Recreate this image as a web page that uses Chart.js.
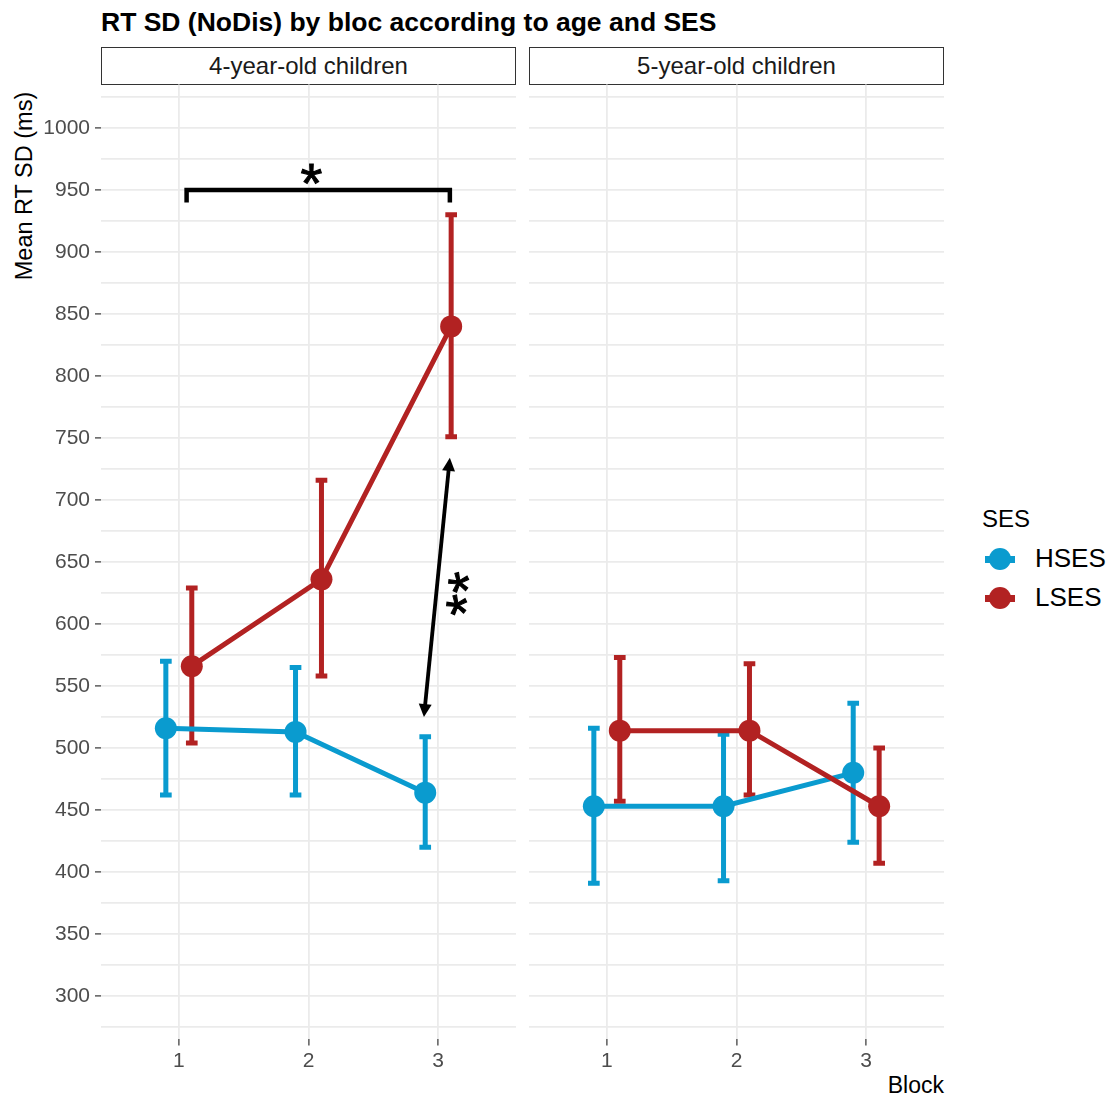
<!DOCTYPE html>
<html>
<head>
<meta charset="utf-8">
<script src="https://cdn.jsdelivr.net/npm/chart.js@4.4.1/dist/chart.umd.min.js"></script>
<style>
  body { margin: 0; background: #fff; font-family: "Liberation Sans", Arial, sans-serif; }
  #page { position: relative; width: 1109px; height: 1097px; overflow: hidden; }
  .abs { position: absolute; white-space: nowrap; }
  .strip { position: absolute; top: 47px; height: 36px; width: 413px; border: 1px solid #333;
           text-align: center; line-height: 36px; font-size: 24px; color: #1a1a1a; }
  .key { position: absolute; width: 30px; height: 22px; }
  .key .bar { position: absolute; left: 0; top: 7.5px; width: 30px; height: 7px; }
  .key .dot { position: absolute; left: 4px; top: 0; width: 22px; height: 22px; border-radius: 50%; }
</style>
</head>
<body>
<div id="page">
  <div class="abs" style="left:101px; top:5px; font-size:26.5px; font-weight:bold; line-height:34px; color:#000;">RT SD (NoDis) by bloc according to age and SES</div>
  <div class="strip" style="left:101px;">4-year-old children</div>
  <div class="strip" style="left:529px;">5-year-old children</div>
  <div class="abs" style="left:24px; top:186px; font-size:23.5px; color:#000; transform: translate(-50%,-50%) rotate(-90deg);">Mean RT SD (ms)</div>
  <div class="abs" style="right:165px; top:1071px; font-size:23px; line-height:28px; color:#000;">Block</div>

  <div class="abs" style="left:982px; top:504px; font-size:24px; line-height:30px; color:#000;">SES</div>
  <div class="key" style="left:985px; top:548px;"><div class="bar" style="background:#0A9BCF"></div><div class="dot" style="background:#0A9BCF"></div></div>
  <div class="abs" style="left:1035px; top:543px; font-size:26px; line-height:30px; color:#000;">HSES</div>
  <div class="key" style="left:985px; top:587px;"><div class="bar" style="background:#B22222"></div><div class="dot" style="background:#B22222"></div></div>
  <div class="abs" style="left:1035px; top:582px; font-size:26px; line-height:30px; color:#000;">LSES</div>

  <canvas id="left" class="abs" width="520" height="1000" style="left:0; top:80px;"></canvas>
  <canvas id="right" class="abs" width="415" height="1000" style="left:529px; top:80px;"></canvas>
</div>

<script>
// ----- data -----
const blocks = [1, 2, 3];
const yLabels = [300, 350, 400, 450, 500, 550, 600, 650, 700, 750, 800, 850, 900, 950, 1000];
const yGrid = [275, 300, 325, 350, 375, 400, 425, 450, 475, 500, 525, 550, 575, 600, 625, 650, 675, 700, 725, 750, 775, 800, 825, 850, 875, 900, 925, 950, 975, 1000, 1025];

// 4-year-old children
const hses4 = [516, 513, 464];
const hses4Lo = [462, 462, 420];
const hses4Hi = [570, 565, 509];
const lses4 = [566, 636, 840];
const lses4Lo = [504, 558, 751];
const lses4Hi = [629, 716, 930];

// 5-year-old children
const hses5 = [453, 453, 480];
const hses5Lo = [391, 393, 424];
const hses5Hi = [516, 511, 536];
const lses5 = [514, 514, 453];
const lses5Lo = [457, 462, 407];
const lses5Hi = [573, 568, 500];

// significance marks (left panel, data units)
const bracketX = [1.06, 3.09];
const bracketY = 950;
const bracketLegY = 940;
const bracketStar = [2.02, 963];
const arrowFrom = [2.89, 525];
const arrowTo = [3.09, 734];
const arrowStars = [[3.161, 633], [3.146, 615]];

const BLUE = '#0A9BCF';
const RED = '#B22222';
const FONT = '"Liberation Sans", Arial, sans-serif';
const DODGE = 0.1;
const CAP = 0.045;

function series(vals, shift) {
  return vals.map((v, i) => ({ x: blocks[i] + shift, y: v }));
}

// error bars drawn under the lines
const errorBars = {
  id: 'errorBars',
  beforeDatasetsDraw(chart) {
    const { ctx, scales: { x, y } } = chart;
    chart.data.datasets.forEach(ds => {
      ctx.save();
      ctx.strokeStyle = ds.borderColor;
      ctx.lineWidth = 5;
      ds.data.forEach((p, i) => {
        const px = x.getPixelForValue(p.x);
        const hw = x.getPixelForValue(p.x + CAP) - px;
        const top = y.getPixelForValue(ds.hi[i]);
        const bot = y.getPixelForValue(ds.lo[i]);
        ctx.beginPath();
        ctx.moveTo(px, top); ctx.lineTo(px, bot);
        ctx.moveTo(px - hw, top); ctx.lineTo(px + hw, top);
        ctx.moveTo(px - hw, bot); ctx.lineTo(px + hw, bot);
        ctx.stroke();
      });
      ctx.restore();
    });
  }
};

function drawStar(ctx, px, py, size, rot) {
  ctx.save();
  ctx.translate(px, py);
  ctx.rotate(rot);
  ctx.font = size + 'px ' + FONT;
  ctx.textAlign = 'left';
  ctx.textBaseline = 'alphabetic';
  const m = ctx.measureText('*');
  const cx = (m.actualBoundingBoxRight - m.actualBoundingBoxLeft) / 2;
  const cy = (m.actualBoundingBoxDescent - m.actualBoundingBoxAscent) / 2;
  ctx.fillStyle = '#000';
  ctx.strokeStyle = '#000';
  ctx.lineWidth = 1;
  ctx.fillText('*', -cx, -cy);
  ctx.strokeText('*', -cx, -cy);
  ctx.restore();
}

function arrowHead(ctx, tx, ty, fx, fy, len, half) {
  const a = Math.atan2(ty - fy, tx - fx);
  ctx.beginPath();
  ctx.moveTo(tx, ty);
  ctx.lineTo(tx - len * Math.cos(a) + half * Math.sin(a), ty - len * Math.sin(a) - half * Math.cos(a));
  ctx.lineTo(tx - len * Math.cos(a) - half * Math.sin(a), ty - len * Math.sin(a) + half * Math.cos(a));
  ctx.closePath();
  ctx.fill();
}

const significance = {
  id: 'significance',
  afterDatasetsDraw(chart) {
    const { ctx, scales: { x, y } } = chart;
    ctx.save();
    ctx.strokeStyle = '#000';
    ctx.fillStyle = '#000';
    ctx.lineWidth = 4.5;
    ctx.lineJoin = 'miter';
    // bracket
    const x1 = x.getPixelForValue(bracketX[0]), x2 = x.getPixelForValue(bracketX[1]);
    const yb = y.getPixelForValue(bracketY), yl = y.getPixelForValue(bracketLegY);
    ctx.beginPath();
    ctx.moveTo(x1, yl); ctx.lineTo(x1, yb); ctx.lineTo(x2, yb); ctx.lineTo(x2, yl);
    ctx.stroke();
    drawStar(ctx, x.getPixelForValue(bracketStar[0]), y.getPixelForValue(bracketStar[1]), 56, 0);

    // double arrow
    const ax = x.getPixelForValue(arrowFrom[0]), ay = y.getPixelForValue(arrowFrom[1]);
    const bx = x.getPixelForValue(arrowTo[0]), by = y.getPixelForValue(arrowTo[1]);
    const len = 13, half = 6.5;
    const d = Math.hypot(bx - ax, by - ay);
    const ux = (bx - ax) / d, uy = (by - ay) / d;
    ctx.lineWidth = 3.8;
    ctx.beginPath();
    ctx.moveTo(ax + ux * (len - 2), ay + uy * (len - 2));
    ctx.lineTo(bx - ux * (len - 2), by - uy * (len - 2));
    ctx.stroke();
    arrowHead(ctx, bx, by, ax, ay, len, half);
    arrowHead(ctx, ax, ay, bx, by, len, half);
    const rot = Math.atan2(by - ay, bx - ax);
    arrowStars.forEach(s => drawStar(ctx, x.getPixelForValue(s[0]), y.getPixelForValue(s[1]), 56, rot));
    ctx.restore();
  }
};

function makePanel(id, hs, hsLo, hsHi, ls, lsLo, lsHi, showY, extra) {
  const ctx = document.getElementById(id).getContext('2d');
  return new Chart(ctx, {
    type: 'line',
    data: {
      datasets: [
        { data: series(ls, DODGE), lo: lsLo, hi: lsHi, borderColor: RED, backgroundColor: RED,
          borderWidth: 5, pointRadius: 11, pointBorderWidth: 0, pointBackgroundColor: RED, tension: 0 },
        { data: series(hs, -DODGE), lo: hsLo, hi: hsHi, borderColor: BLUE, backgroundColor: BLUE,
          borderWidth: 5, pointRadius: 11, pointBorderWidth: 0, pointBackgroundColor: BLUE, tension: 0 }
      ]
    },
    options: {
      responsive: false,
      animation: false,
      devicePixelRatio: 1,
      layout: { autoPadding: false, padding: { top: 4.6, right: showY ? 4 : 0, left: 0, bottom: 0 } },
      plugins: { legend: { display: false }, tooltip: { enabled: false } },
      scales: {
        x: {
          type: 'linear', min: 0.4, max: 3.6,
          afterBuildTicks: s => { s.ticks = blocks.map(v => ({ value: v })); },
          afterFit: s => { s.height = 40.6; s.paddingLeft = 0; s.paddingRight = 0; },
          grid: { color: '#EBEBEB', lineWidth: 1.8, tickLength: 6, tickColor: '#333', tickWidth: 1.2 },
          border: { display: false },
          ticks: { font: { size: 21, family: FONT }, color: '#4d4d4d', padding: 3, maxRotation: 0 }
        },
        y: {
          min: 265, max: 1035,
          afterBuildTicks: s => { s.ticks = yGrid.map(v => ({ value: v })); },
          afterFit: s => { s.width = showY ? 101 : 0; s.paddingTop = 0; s.paddingBottom = 0; },
          grid: {
            color: '#EBEBEB', lineWidth: 1.8, drawTicks: showY, tickLength: 6, tickWidth: 1.2,
            tickColor: c => (c.tick && yLabels.includes(c.tick.value)) ? '#333' : 'rgba(0,0,0,0)'
          },
          border: { display: false },
          ticks: {
            display: showY, font: { size: 21, family: FONT }, color: '#4d4d4d', padding: 5,
            callback: v => yLabels.includes(v) ? String(v) : ''
          }
        }
      }
    },
    plugins: extra
  });
}

makePanel('left', hses4, hses4Lo, hses4Hi, lses4, lses4Lo, lses4Hi, true, [errorBars, significance]);
makePanel('right', hses5, hses5Lo, hses5Hi, lses5, lses5Lo, lses5Hi, false, [errorBars]);
</script>
</body>
</html>
